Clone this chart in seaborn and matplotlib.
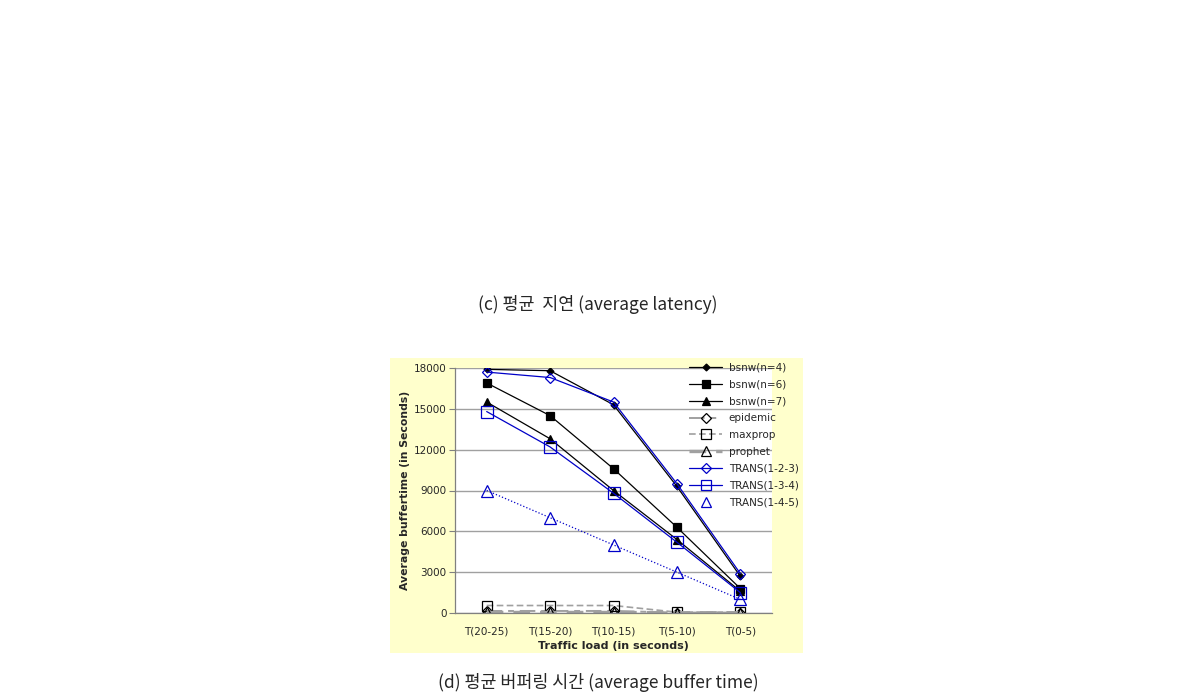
import matplotlib
matplotlib.use("Agg")
import matplotlib.pyplot as plt
from matplotlib.lines import Line2D
from matplotlib.patches import Rectangle
import seaborn as sns
import pandas as pd

categories = ["T(20-25)", "T(15-20)", "T(10-15)", "T(5-10)", "T(0-5)"]
bsnw4 = [17900, 17800, 15300, 9300, 2700]
bsnw6 = [16900, 14500, 10600, 6300, 1800]
bsnw7 = [15500, 12800, 9000, 5400, 1600]
epidemic = [150, 150, 150, 30, 30]
maxprop = [550, 550, 550, 60, 60]
prophet = [40, 40, 40, 20, 20]
trans123 = [17700, 17300, 15500, 9500, 2900]
trans134 = [14800, 12200, 8800, 5200, 1500]
trans145 = [9000, 7000, 5000, 3000, 1000]
yticks = [0, 3000, 6000, 9000, 12000, 15000, 18000]

sns.set_style("white")
plt.rcParams['font.family'] = ['DejaVu Sans']

fig = plt.figure(figsize=(11.9, 7.0), dpi=100)
W, H = 1190, 700

def fx(px):
    return px / W

def fy(py):
    return 1 - py / H

# yellow chart area
bg = Rectangle((fx(390), fy(653)), fx(803) - fx(390), fy(358) - fy(653),
               transform=fig.transFigure, facecolor="#FFFFCC", edgecolor="none", zorder=-10)
fig.add_artist(bg)

ax = fig.add_axes([fx(455), fy(613), fx(772) - fx(455), fy(368) - fy(613)])
ax.set_zorder(1)
ax.set_facecolor("white")

gray = "#A0A0A0"
blue = "#0000C8"

series = [
    ("bsnw(n=4)", bsnw4, dict(color="black", marker="D", markersize=3.5, mfc="black", mec="black", lw=0.9, ls="-")),
    ("bsnw(n=6)", bsnw6, dict(color="black", marker="s", markersize=6, mfc="black", mec="black", lw=0.9, ls="-")),
    ("bsnw(n=7)", bsnw7, dict(color="black", marker="^", markersize=5.5, mfc="black", mec="black", lw=0.9, ls="-")),
    ("epidemic", epidemic, dict(color=gray, marker="D", markersize=5, mfc="none", mec="black", lw=1.4, dashes=(8, 3, 3, 3))),
    ("maxprop", maxprop, dict(color=gray, marker="s", markersize=7, mfc="none", mec="black", lw=1.2, dashes=(4, 2))),
    ("prophet", prophet, dict(color=gray, marker="^", markersize=7, mfc="none", mec="black", lw=2.4, dashes=(5, 3))),
    ("TRANS(1-2-3)", trans123, dict(color=blue, marker="D", markersize=5.5, mfc="none", mec=blue, lw=0.9, ls="-")),
    ("TRANS(1-3-4)", trans134, dict(color=blue, marker="s", markersize=9, mfc="none", mec=blue, lw=0.9, ls="-")),
    ("TRANS(1-4-5)", trans145, dict(color=blue, marker="^", markersize=8, mfc="none", mec=blue, lw=0.9, ls=":")),
]

handles = []
for name, vals, st in series:
    df = pd.DataFrame({"cat": categories, "val": vals})
    kw = dict(st)
    sns.lineplot(data=df, x="cat", y="val", ax=ax, sort=False, markeredgewidth=0.9, **kw)
    if name == "TRANS(1-4-5)":
        h = Line2D([], [], color=blue, marker="^", markersize=7, mfc="none", mec=blue, ls="none", markeredgewidth=0.9)
    else:
        hk = dict(st)
        hk["markersize"] = min(hk["markersize"], 7)
        h = Line2D([], [], markeredgewidth=0.9, **hk)
    handles.append((h, name))

ax.set_xlim(-0.5, 4.5)
ax.set_ylim(0, 18000)
ax.set_yticks(yticks)
ax.set_yticklabels([str(v) for v in yticks], fontsize=7.5)
ax.set_xticks(range(len(categories)))
ax.set_xticklabels(categories, fontsize=7.5)
ax.set_xticks([i - 0.5 for i in range(len(categories) + 1)], minor=True)
ax.tick_params(axis="x", which="major", length=0, pad=10)
ax.tick_params(axis="x", which="minor", length=4, color="#808080", direction="out")
ax.tick_params(axis="y", which="major", length=4, color="#808080", direction="out", left=True, pad=2)
ax.grid(axis="y", color=gray, lw=1.0)
ax.set_axisbelow(True)
for s in ["top", "right"]:
    ax.spines[s].set_visible(False)
for s in ["left", "bottom"]:
    ax.spines[s].set_color("#808080")
    ax.spines[s].set_linewidth(0.9)
ax.set_xlabel("Traffic load (in seconds)", fontsize=8, fontweight="bold", labelpad=3)
ax.set_ylabel("Average buffertime (in Seconds)", fontsize=7.8, fontweight="bold", labelpad=3)

leg = fig.legend([h for h, n in handles], [n for h, n in handles], loc="upper left",
                 bbox_to_anchor=(fx(689), fy(363)), frameon=False, fontsize=7.5,
                 handlelength=3.2, handletextpad=0.6, labelspacing=0.65, borderpad=0, borderaxespad=0)
leg.set_zorder(5)

cjk = ['Noto Sans CJK KR', 'DejaVu Sans']
fig.text(fx(598), fy(305), "(c) 평균  지연 (average latency)", ha="center", va="center", fontsize=12.5, family=cjk)
fig.text(fx(598), fy(682), "(d) 평균 버퍼링 시간 (average buffer time)", ha="center", va="center", fontsize=12.5, family=cjk)

fig.savefig("out.png", dpi=100)
